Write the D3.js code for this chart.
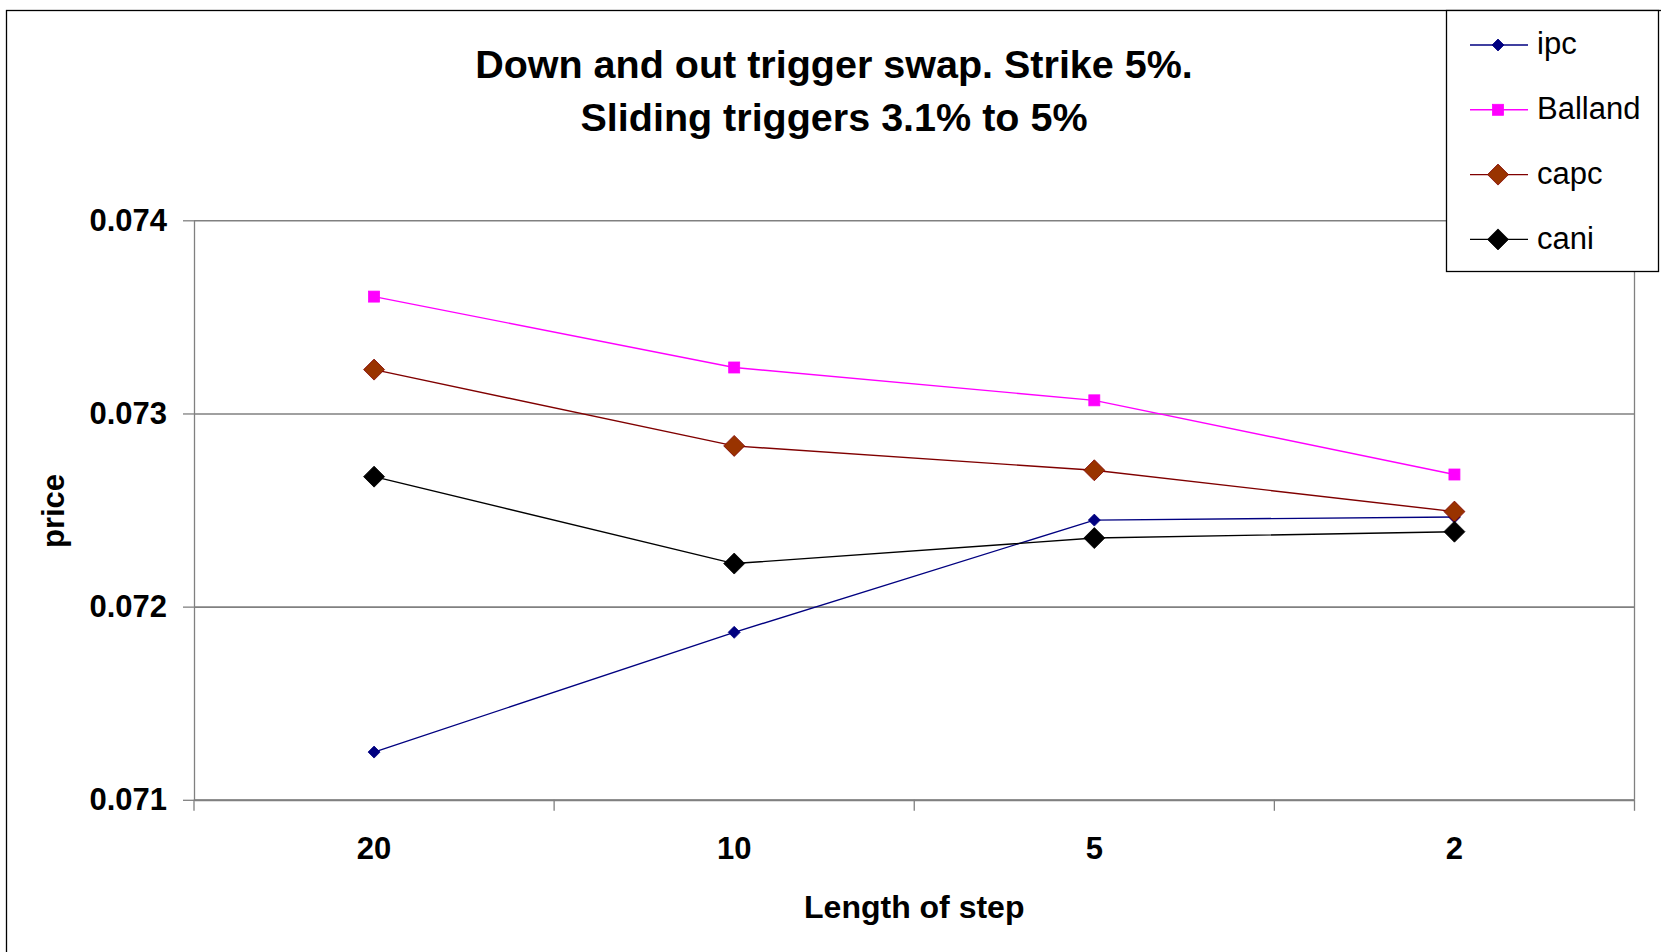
<!DOCTYPE html>
<html>
<head>
<meta charset="utf-8">
<script src="https://cdn.jsdelivr.net/npm/d3@7"></script>
<style>
  body { margin: 0; background: #fff; }
  svg { display: block; font-family: "Liberation Sans", Arial, sans-serif; }
</style>
</head>
<body>
<div id="chart"></div>
<script>
// data
var steps = ['20', '10', '5', '2']
var ipc = [0.071247, 0.071867, 0.072448, 0.072464]
var balland = [0.073605, 0.073238, 0.073068, 0.072684]
var capc = [0.073227, 0.072832, 0.072706, 0.072492]
var cani = [0.072673, 0.072223, 0.072355, 0.072388]
var yTicks = [0.071, 0.072, 0.073, 0.074]
var seriesNames = ['ipc', 'Balland', 'capc', 'cani']

var series = [
  {name: seriesNames[0], values: ipc, line: '#000080', fill: '#000080', stroke: '#000080', shape: 'diamond', size: 6},
  {name: seriesNames[1], values: balland, line: '#ff00ff', fill: '#ff00ff', stroke: '#ff00ff', shape: 'square', size: 5.5},
  {name: seriesNames[2], values: capc, line: '#800000', fill: '#993300', stroke: '#800000', shape: 'diamond', size: 10.5},
  {name: seriesNames[3], values: cani, line: '#000000', fill: '#000000', stroke: '#000000', shape: 'diamond', size: 10.5}
]

var W = 1661, H = 952
var plot = {left: 194, right: 1634.5, top: 220.3, bottom: 799.8}

var svg = d3.select('#chart')
  .append('svg')
  .attr('width', W)
  .attr('height', H)

// outer chart border
svg.append('rect')
  .attr('x', 6.5).attr('y', 10.5)
  .attr('width', W + 20).attr('height', H + 20)
  .attr('fill', '#fff')
  .attr('stroke', '#000')
  .attr('stroke-width', 1.3)

var x = d3.scaleBand()
  .domain(steps)
  .range([plot.left, plot.right])
  .padding(0)

var y = d3.scaleLinear()
  .domain([0.071, 0.074])
  .range([plot.bottom, plot.top])

var cx = function (s) { return x(s) + x.bandwidth() / 2 }

// gridlines
svg.append('g')
  .attr('transform', 'translate(' + plot.left + ',0)')
  .call(d3.axisLeft(y).tickValues(yTicks).tickSize(-(plot.right - plot.left)).tickFormat(''))
  .call(function (g) { g.select('.domain').remove() })
  .selectAll('line')
  .attr('stroke', '#808080')
  .attr('stroke-width', 1.6)

// right edge of plot area
svg.append('line')
  .attr('x1', plot.right).attr('x2', plot.right)
  .attr('y1', y(0.074)).attr('y2', y(0.071))
  .attr('stroke', '#808080')
  .attr('stroke-width', 1.3)

// y axis
var yAxis = svg.append('g')
  .attr('transform', 'translate(' + plot.left + ',0)')
  .call(d3.axisLeft(y).tickValues(yTicks).tickSize(11).tickPadding(16).tickSizeOuter(0).tickFormat(d3.format('.3f')))
yAxis.selectAll('line, path').attr('stroke', '#808080').attr('stroke-width', 1.3)
yAxis.selectAll('text')
  .attr('fill', '#000')
  .style('font-size', '31px')
  .style('font-weight', 'bold')

// x axis: labels centred in each category, ticks between categories
var xAxis = svg.append('g')
  .attr('transform', 'translate(0,' + plot.bottom + ')')
  .call(d3.axisBottom(x).tickSize(0).tickPadding(37).tickSizeOuter(0))
xAxis.select('.domain').attr('stroke', '#808080').attr('stroke-width', 2)
xAxis.selectAll('text')
  .attr('fill', '#000')
  .style('font-size', '31px')
  .style('font-weight', 'bold')

svg.append('g')
  .selectAll('line')
  .data(steps.concat(['end']))
  .enter()
  .append('line')
  .attr('x1', function (d) { return d === 'end' ? plot.right : x(d) })
  .attr('x2', function (d) { return d === 'end' ? plot.right : x(d) })
  .attr('y1', plot.bottom)
  .attr('y2', plot.bottom + 11)
  .attr('stroke', '#808080')
  .attr('stroke-width', 1.3)

// axis titles
svg.append('text')
  .attr('x', (plot.left + plot.right) / 2)
  .attr('y', 918)
  .attr('text-anchor', 'middle')
  .style('font-size', '32px')
  .style('font-weight', 'bold')
  .text('Length of step')

svg.append('text')
  .attr('transform', 'translate(64,' + 511 + ') rotate(-90)')
  .attr('text-anchor', 'middle')
  .style('font-size', '31px')
  .style('font-weight', 'bold')
  .text('price')

// chart title
var title = svg.append('text')
  .attr('text-anchor', 'middle')
  .style('font-size', '39.5px')
  .style('font-weight', 'bold')
title.append('tspan').attr('x', 834).attr('y', 78).text('Down and out trigger swap. Strike 5%.')
title.append('tspan').attr('x', 834).attr('y', 131).text('Sliding triggers 3.1% to 5%')

function marker (sel, s) {
  if (s.shape === 'square') {
    sel.append('rect')
      .attr('x', -s.size).attr('y', -s.size)
      .attr('width', s.size * 2).attr('height', s.size * 2)
      .attr('fill', s.fill).attr('stroke', s.stroke).attr('stroke-width', 0.8)
  } else {
    var r = s.size
    sel.append('path')
      .attr('d', 'M0,' + (-r) + 'L' + r + ',0L0,' + r + 'L' + (-r) + ',0Z')
      .attr('fill', s.fill).attr('stroke', s.stroke).attr('stroke-width', 0.8)
  }
}

// lines and markers
var line = d3.line()
  .x(function (d, i) { return cx(steps[i]) })
  .y(function (d) { return y(d) })

series.forEach(function (s) {
  svg.append('path')
    .datum(s.values)
    .attr('fill', 'none')
    .attr('stroke', s.line)
    .attr('stroke-width', 1.4)
    .attr('d', line)

  s.values.forEach(function (v, i) {
    var g = svg.append('g').attr('transform', 'translate(' + cx(steps[i]) + ',' + y(v) + ')')
    marker(g, s)
  })
})

// legend
var legend = svg.append('g')
legend.append('rect')
  .attr('x', 1446.5).attr('y', 10.5)
  .attr('width', 212).attr('height', 261)
  .attr('fill', '#fff')
  .attr('stroke', '#000')
  .attr('stroke-width', 1.3)

series.forEach(function (s, i) {
  var ly = 45 + i * 64.8
  var g = legend.append('g').attr('transform', 'translate(0,' + ly + ')')
  g.append('line')
    .attr('x1', 1470).attr('x2', 1528)
    .attr('y1', 0).attr('y2', 0)
    .attr('stroke', s.line)
    .attr('stroke-width', 1.4)
  marker(g.append('g').attr('transform', 'translate(1498,0)'), s)
  g.append('text')
    .attr('x', 1537)
    .attr('y', -2)
    .attr('dy', '0.36em')
    .style('font-size', '31px')
    .text(s.name)
})
</script>
</body>
</html>
